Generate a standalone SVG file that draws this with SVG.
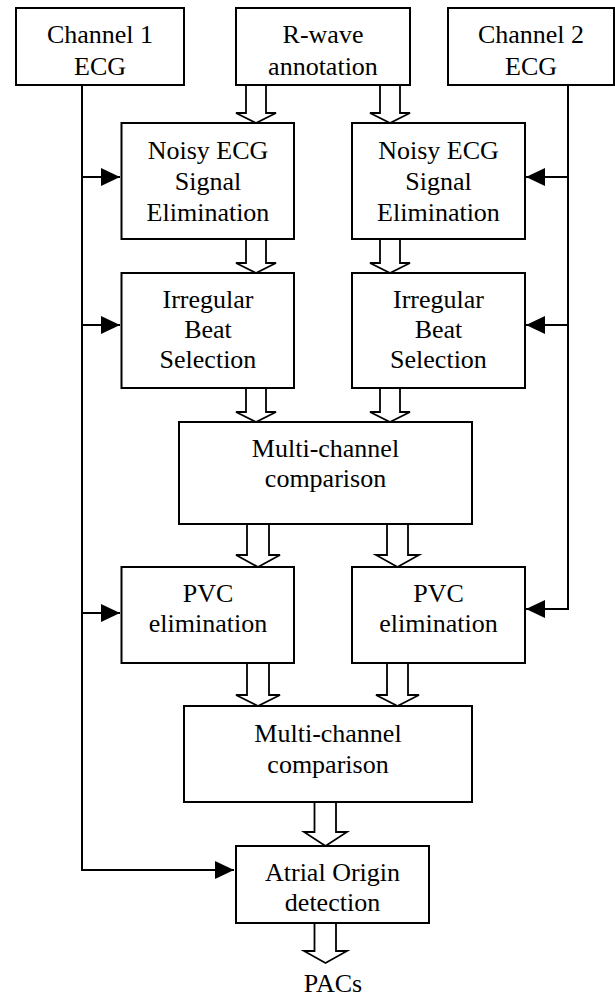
<svg xmlns="http://www.w3.org/2000/svg" width="615" height="999" viewBox="0 0 615 999">
<style>
.box{fill:#fff;stroke:#000;stroke-width:2}
.t{font-family:'Liberation Serif','Times New Roman',Tinos,'DejaVu Serif','Noto Serif',serif;font-size:26px;fill:#000;text-anchor:middle}
.ln{fill:none;stroke:#000;stroke-width:2}
.ha{fill:#fff;stroke:#000;stroke-width:1.8;stroke-linejoin:miter}
</style>
<defs>
<marker id="fa" markerUnits="userSpaceOnUse" markerWidth="20" markerHeight="20" refX="19" refY="9" orient="auto">
<path d="M0,0 L19,9 L0,18 z" fill="#000"/>
</marker>
</defs>
<rect width="615" height="999" fill="#fff"/>
<g id="connectors">
<path class="ln" d="M82,85 V870 H234" marker-end="url(#fa)"/>
<path class="ln" d="M82,177 H120" marker-end="url(#fa)"/>
<path class="ln" d="M82,325 H120" marker-end="url(#fa)"/>
<path class="ln" d="M82,613 H120" marker-end="url(#fa)"/>
<path class="ln" d="M568,85 V609 H526" marker-end="url(#fa)"/>
<path class="ln" d="M568,177 H526" marker-end="url(#fa)"/>
<path class="ln" d="M568,325 H526" marker-end="url(#fa)"/>
<polygon class="ha" points="246,85 266,85 266,113 276,113 256,123 236,113 246,113"/>
<polygon class="ha" points="380,85 400,85 400,113 410,113 390,123 370,113 380,113"/>
<polygon class="ha" points="246,239 266,239 266,263 276,263 256,273 236,263 246,263"/>
<polygon class="ha" points="380,239 400,239 400,263 410,263 390,273 370,263 380,263"/>
<polygon class="ha" points="246,388 266,388 266,412 276,412 256,422 236,412 246,412"/>
<polygon class="ha" points="380,388 400,388 400,412 410,412 390,422 370,412 380,412"/>
<polygon class="ha" points="247,524 269,524 269,555 280,555 258,567 236,555 247,555"/>
<polygon class="ha" points="387,524 408,524 408,555 419,555 397.5,567 376,555 387,555"/>
<polygon class="ha" points="247,663 269,663 269,695 280,695 258,706 236,695 247,695"/>
<polygon class="ha" points="387,663 408,663 408,695 419,695 397.5,706 376,695 387,695"/>
<polygon class="ha" points="314.5,802 336,802 336,832 347,832 325.5,846 304,832 314.5,832"/>
<polygon class="ha" points="314.5,923 336,923 336,951 347,951 325.5,963 304,951 314.5,951"/>
</g>
<g id="ch1"><rect class="box" x="16" y="8" width="168" height="77"/><text class="t" x="100" y="43">Channel 1</text><text class="t" x="100" y="75">ECG</text></g>
<g id="rwave"><rect class="box" x="236" y="8" width="174" height="77"/><text class="t" x="323" y="43">R-wave</text><text class="t" x="323" y="75">annotation</text></g>
<g id="ch2"><rect class="box" x="448" y="8" width="166" height="77"/><text class="t" x="531" y="43">Channel 2</text><text class="t" x="531" y="75">ECG</text></g>
<g id="noisy1"><rect class="box" x="121.5" y="123" width="172.5" height="116"/><text class="t" x="208" y="159">Noisy ECG</text><text class="t" x="208" y="190">Signal</text><text class="t" x="208" y="221">Elimination</text></g>
<g id="noisy2"><rect class="box" x="352" y="123" width="173" height="116"/><text class="t" x="438.5" y="159">Noisy ECG</text><text class="t" x="438.5" y="190">Signal</text><text class="t" x="438.5" y="221">Elimination</text></g>
<g id="irr1"><rect class="box" x="121.5" y="273" width="172.5" height="115"/><text class="t" x="208" y="308">Irregular</text><text class="t" x="208" y="338">Beat</text><text class="t" x="208" y="368">Selection</text></g>
<g id="irr2"><rect class="box" x="352" y="273" width="173" height="115"/><text class="t" x="438.5" y="308">Irregular</text><text class="t" x="438.5" y="338">Beat</text><text class="t" x="438.5" y="368">Selection</text></g>
<g id="multi1"><rect class="box" x="179" y="422" width="293" height="102"/><text class="t" x="325.5" y="457">Multi-channel</text><text class="t" x="325.5" y="487">comparison</text></g>
<g id="pvc1"><rect class="box" x="121.5" y="567" width="172.5" height="96"/><text class="t" x="208" y="602">PVC</text><text class="t" x="208" y="632">elimination</text></g>
<g id="pvc2"><rect class="box" x="352" y="567" width="173" height="96"/><text class="t" x="438.5" y="602">PVC</text><text class="t" x="438.5" y="632">elimination</text></g>
<g id="multi2"><rect class="box" x="184" y="706" width="288" height="96"/><text class="t" x="328" y="742">Multi-channel</text><text class="t" x="328" y="773">comparison</text></g>
<g id="atrial"><rect class="box" x="236" y="846" width="193" height="77"/><text class="t" x="332.5" y="881">Atrial Origin</text><text class="t" x="332.5" y="911">detection</text></g>
<g id="pacs"><text class="t" x="333" y="992">PACs</text></g>
</svg>
